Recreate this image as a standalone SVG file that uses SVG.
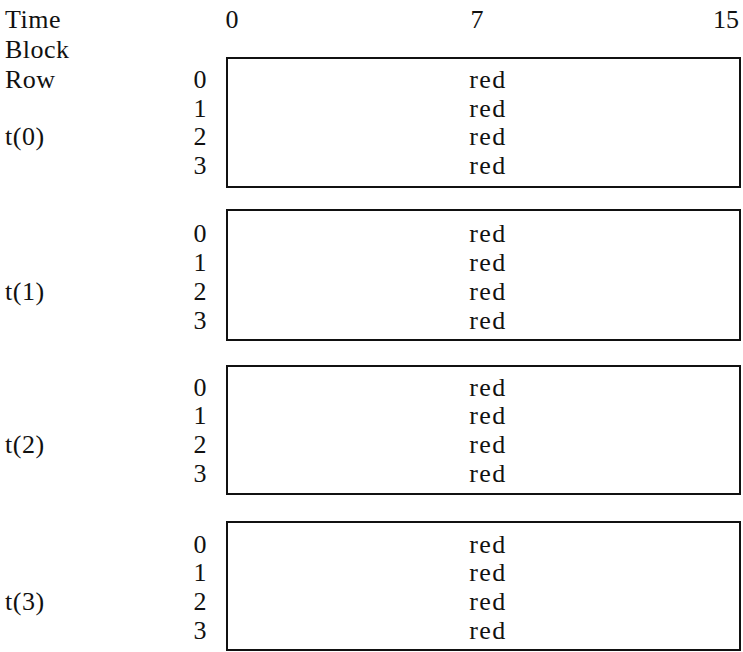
<svg xmlns="http://www.w3.org/2000/svg" width="743" height="652" viewBox="0 0 743 652">
<style>
text{font-family:"Liberation Serif","Times New Roman",serif;font-size:26px;fill:#111;}
.lab{letter-spacing:0.5px;}
.row{text-anchor:middle;}
.val{text-anchor:middle;letter-spacing:1.5px;}
.blk{fill:#fff;stroke:#111;stroke-width:2;}
</style>
<rect width="743" height="652" fill="#fff"/>
<g id="header">
<text class="lab" x="5" y="28">Time</text>
<text class="lab" x="5" y="58">Block</text>
<text class="lab" x="5" y="88">Row</text>
<text class="row" x="232" y="28">0</text>
<text class="row" x="477" y="28">7</text>
<text x="739" y="28" text-anchor="end">15</text>
</g>
<g id="block0">
<rect class="blk" x="227" y="58" width="513" height="129"/>
<text class="lab" x="5" y="145">t(0)</text>
<text class="row" x="200" y="88">0</text><text class="val" x="488" y="88">red</text>
<text class="row" x="200" y="117">1</text><text class="val" x="488" y="117">red</text>
<text class="row" x="200" y="145">2</text><text class="val" x="488" y="145">red</text>
<text class="row" x="200" y="174">3</text><text class="val" x="488" y="174">red</text>
</g>
<g id="block1">
<rect class="blk" x="227" y="210" width="513" height="130"/>
<text class="lab" x="5" y="300">t(1)</text>
<text class="row" x="200" y="242">0</text><text class="val" x="488" y="242">red</text>
<text class="row" x="200" y="271">1</text><text class="val" x="488" y="271">red</text>
<text class="row" x="200" y="300">2</text><text class="val" x="488" y="300">red</text>
<text class="row" x="200" y="329">3</text><text class="val" x="488" y="329">red</text>
</g>
<g id="block2">
<rect class="blk" x="227" y="366" width="513" height="128"/>
<text class="lab" x="5" y="453">t(2)</text>
<text class="row" x="200" y="396">0</text><text class="val" x="488" y="396">red</text>
<text class="row" x="200" y="424">1</text><text class="val" x="488" y="424">red</text>
<text class="row" x="200" y="453">2</text><text class="val" x="488" y="453">red</text>
<text class="row" x="200" y="482">3</text><text class="val" x="488" y="482">red</text>
</g>
<g id="block3">
<rect class="blk" x="227" y="522" width="513" height="128"/>
<text class="lab" x="5" y="610">t(3)</text>
<text class="row" x="200" y="553">0</text><text class="val" x="488" y="553">red</text>
<text class="row" x="200" y="581">1</text><text class="val" x="488" y="581">red</text>
<text class="row" x="200" y="610">2</text><text class="val" x="488" y="610">red</text>
<text class="row" x="200" y="639">3</text><text class="val" x="488" y="639">red</text>
</g>
<g id="connectors"/>
</svg>
